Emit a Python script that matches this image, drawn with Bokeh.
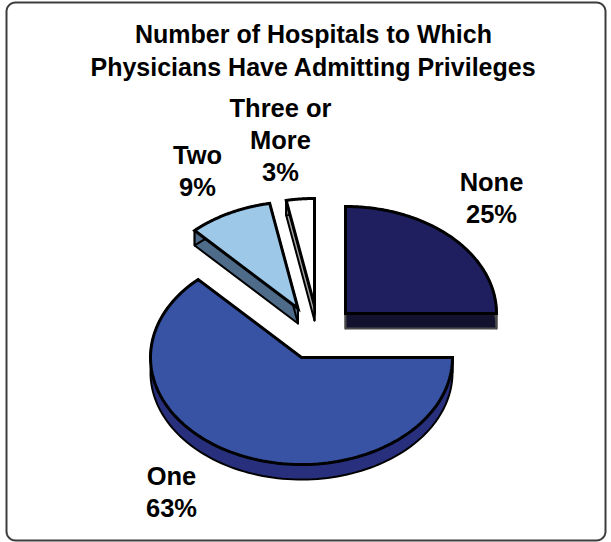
import numpy as np
from bokeh.plotting import figure
from bokeh.models import Range1d
from bokeh.core.properties import value
from bokeh.embed import file_html
from bokeh.resources import INLINE

title_lines = ["Number of Hospitals to Which", "Physicians Have Admitting Privileges"]
categories = ["None", "One", "Two", "Three or More"]
shares = [25, 63, 9, 3]
label_lines = [["None", "25%"], ["One", "63%"], ["Two", "9%"], ["Three or", "More", "3%"]]
top_colors = ["#1f1f60", "#3953a4", "#9dc8e8", "#ffffff"]
side_colors = ["#12122e", "#28307e", "#4f6b8a", "#a8a8a8"]
side_lines = ["#4a4a4a", "#000000", "#000000", "#000000"]

# layout (pixels of the page)
W, H = 611, 542
RX, RY, DEPTH = 151, 107, 15
apexes = [(345, 313), (301, 357), (297.5, 308), (314, 305)]
label_centers = [(491, 197), (171, 491), (197, 170), (280, 139)]
FONT = "Liberation Sans"

p = figure(width=W, height=H, output_backend="svg", toolbar_location=None,
           x_range=Range1d(0, W), y_range=Range1d(H, 0), min_border=0,
           x_axis_type=None, y_axis_type=None, outline_line_color=None,
           background_fill_color="white", border_fill_color="white")
p.grid.visible = False

# rounded frame
L, R, T, B, rad = 6, 605, 2, 540, 9
fx, fy = [], []
for cx, cy, a0 in [(R - rad, T + rad, -90), (R - rad, B - rad, 0), (L + rad, B - rad, 90), (L + rad, T + rad, 180)]:
    t = np.radians(np.linspace(a0, a0 + 90, 10))
    fx += list(cx + rad * np.cos(t))
    fy += list(cy + rad * np.sin(t))
p.patch(fx, fy, fill_color="white", line_color="#3c3c3c", line_width=2)

total = sum(shares)
start = 0.0
for share, (ax, ay), top, side, sl in zip(shares, apexes, top_colors, side_colors, side_lines):
    end = start + share / total
    th = 2 * np.pi * np.linspace(start, end, 120)
    ox = ax + RX * np.sin(th)
    oy = ay - RY * np.cos(th)
    # extruded faces first
    for xs, ys in [
        ([ax, ox[0], ox[0], ax], [ay, oy[0], oy[0] + DEPTH, ay + DEPTH]),
        ([ax, ox[-1], ox[-1], ax], [ay, oy[-1], oy[-1] + DEPTH, ay + DEPTH]),
        (list(ox) + list(ox[::-1]), list(oy) + list(oy[::-1] + DEPTH)),
    ]:
        p.patch(xs, ys, fill_color=side, line_color=sl, line_width=2, line_join="round")
    p.patch([ax] + list(ox), [ay] + list(oy), fill_color=top, line_color="black",
            line_width=3, line_join="miter")
    start = end

def text(x, y, s, size):
    p.text([x], [y], text=[s], text_font=value(FONT), text_font_style="bold",
           text_font_size=size, text_align="center", text_baseline="middle",
           text_color="black")

text(313, 33, title_lines[0], "25px")
text(313, 66, title_lines[1], "25px")
for lines, (cx, cy) in zip(label_lines, label_centers):
    n = len(lines)
    for i, s in enumerate(lines):
        text(cx, cy + (i - (n - 1) / 2) * 32, s, "25.5px")

open("out.html", "w").write(file_html(p, INLINE))
